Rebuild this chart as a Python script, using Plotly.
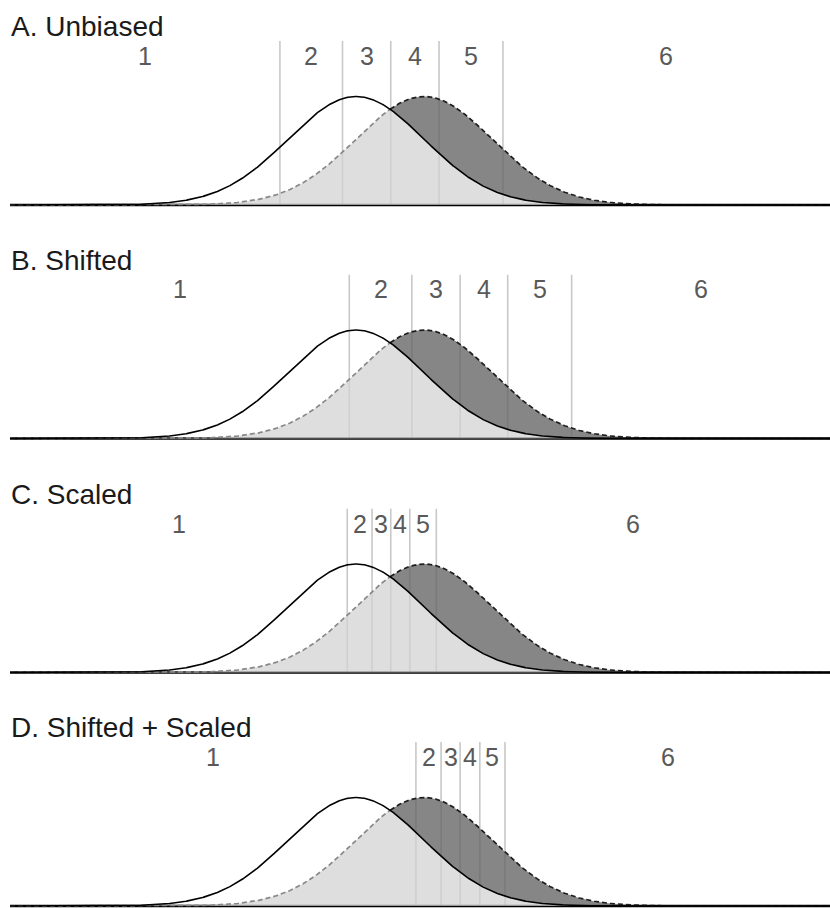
import numpy as np
import plotly.graph_objects as go

# ---- data -----------------------------------------------------------------
panel_titles = ["A. Unbiased", "B. Shifted", "C. Scaled", "D. Shifted + Scaled"]
categories = ["1", "2", "3", "4", "5", "6"]

# response-category thresholds (criteria) for each panel, in SD units
thr_unbiased = [-1.12, -0.20, 0.51, 1.22, 2.16]
thr_shifted = [-0.10, 0.82, 1.53, 2.23, 3.17]
thr_scaled = [-0.13, 0.235, 0.51, 0.79, 1.18]
thr_shifted_scaled = [0.88, 1.25, 1.53, 1.82, 2.19]

# the two latent distributions (noise: solid, signal: dashed)
noise_mean = 0.0
signal_mean = 1.0
dist_sd = 1.0

x_min, x_max = -5.09, 6.97

# ---- layout constants (pixels) -------------------------------------------
W, H = 830, 908
LEFT_PX = 10
baselines_px = [205, 438.5, 672.5, 906]
PX_PER_UNIT_Y = 272.0
LINE_LEN_PX = 164
PAD_PX = 4
FONT = "Liberation Sans, Arial, Helvetica, sans-serif"

DARK_FILL = "rgba(100,100,100,0.78)"
LIGHT_FILL = "rgba(210,210,210,0.73)"
THR_COLOR = "#c8c8c8"


def npdf(x, m, s):
    return np.exp(-0.5 * ((x - m) / s) ** 2) / (s * np.sqrt(2 * np.pi))


xs = np.linspace(x_min, x_max, 1500)
f_noise = npdf(xs, noise_mean, dist_sd)
f_signal = npdf(xs, signal_mean, dist_sd)

fig = go.Figure()
shapes = []
annotations = []
layout_axes = {}

all_thresholds = [thr_unbiased, thr_shifted, thr_scaled, thr_shifted_scaled]

for i, (title, thr, b) in enumerate(zip(panel_titles, all_thresholds, baselines_px)):
    n = i + 1
    sfx = "" if n == 1 else str(n)
    xa, ya = "x" + sfx, "y" + sfx

    pad = min(PAD_PX, H - b)
    y_lo = -pad / PX_PER_UNIT_Y
    y_hi = LINE_LEN_PX / PX_PER_UNIT_Y
    dom_bottom = max(0.0, 1 - (b + pad) / H)
    dom_top = 1 - (b - LINE_LEN_PX) / H

    layout_axes["xaxis" + sfx] = dict(
        domain=[LEFT_PX / W, 1], range=[x_min, x_max], visible=False,
        fixedrange=True, anchor=ya,
    )
    layout_axes["yaxis" + sfx] = dict(
        domain=[dom_bottom, dom_top], range=[y_lo, y_hi], visible=False,
        fixedrange=True, anchor=xa,
    )

    common = dict(xaxis=xa, yaxis=ya, showlegend=False, hoverinfo="skip")

    # baseline
    fig.add_trace(go.Scatter(x=[x_min, x_max], y=[0, 0], mode="lines",
                             line=dict(color="#000000", width=2.6), **common))

    # overlap area (under both curves)
    fig.add_trace(go.Scatter(x=xs, y=np.minimum(f_noise, f_signal), mode="lines",
                             fill="tozeroy", fillcolor=LIGHT_FILL,
                             line=dict(width=0), **common))

    # area where the signal curve exceeds the noise curve
    m = f_signal >= f_noise
    poly_x = np.concatenate([xs[m], xs[m][::-1]])
    poly_y = np.concatenate([f_signal[m], f_noise[m][::-1]])
    fig.add_trace(go.Scatter(x=poly_x, y=poly_y, mode="lines", fill="toself",
                             fillcolor=DARK_FILL, line=dict(width=0), **common))

    # dashed signal curve: grey over the light part, dark over the dark part
    y_grey = np.where(f_signal <= f_noise, f_signal, np.nan)
    y_dark = np.where(f_signal >= f_noise, f_signal, np.nan)
    fig.add_trace(go.Scatter(x=xs, y=y_grey, mode="lines",
                             line=dict(color="#888888", width=1.7, dash="5px,3px"),
                             **common))
    fig.add_trace(go.Scatter(x=xs, y=y_dark, mode="lines",
                             line=dict(color="#1e1e1e", width=1.7, dash="5px,3px"),
                             **common))

    # solid noise curve
    fig.add_trace(go.Scatter(x=xs, y=f_noise, mode="lines",
                             line=dict(color="#000000", width=1.6), **common))

    # thresholds
    for t in thr:
        shapes.append(dict(type="line", xref=xa, yref=ya, x0=t, x1=t, y0=0, y1=y_hi,
                           line=dict(color=THR_COLOR, width=1.6), layer="below"))

    # category labels centred in each interval
    edges = [x_min] + list(thr) + [x_max]
    for lab, lo, hi in zip(categories, edges[:-1], edges[1:]):
        annotations.append(dict(
            x=(lo + hi) / 2, xref=xa, y=1 - (b - 149) / H, yref="paper",
            text=lab, showarrow=False, xanchor="center", yanchor="middle",
            font=dict(family=FONT, size=25, color="#595959"),
        ))

    # panel title
    annotations.append(dict(
        x=9 / W, xref="paper", y=1 - (b - 178.5) / H, yref="paper",
        text=title, showarrow=False, xanchor="left", yanchor="middle",
        font=dict(family=FONT, size=28, color="#1a1a1a"),
    ))

fig.update_layout(
    width=W, height=H,
    margin=dict(l=0, r=0, t=0, b=0),
    paper_bgcolor="white", plot_bgcolor="white",
    shapes=shapes, annotations=annotations,
    showlegend=False,
    **layout_axes,
)

fig.write_html("out.html", config={"displayModeBar": False})
